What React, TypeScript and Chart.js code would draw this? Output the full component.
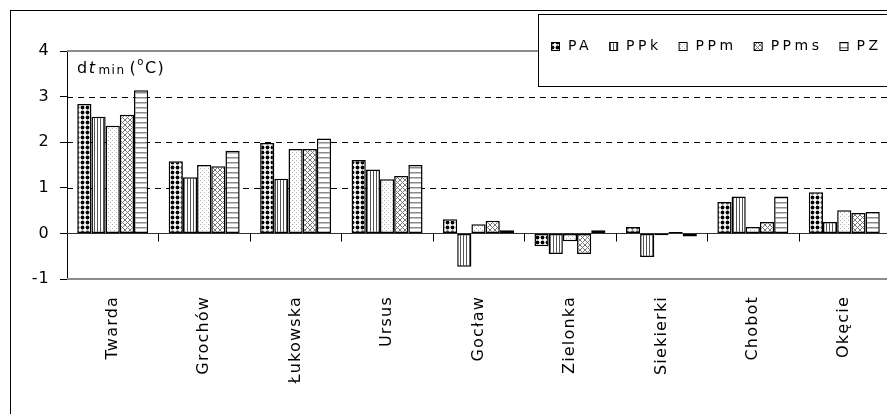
import React, { useEffect, useRef } from 'react';
import { Chart, registerables } from 'chart.js';
Chart.register(...registerables);

const categories = ['Twarda', 'Grochów', 'Łukowska', 'Ursus', 'Gocław', 'Zielonka', 'Siekierki', 'Chobot', 'Okęcie'];
const seriesNames = ['PA', 'PPk', 'PPm', 'PPms', 'PZ'];
const PA = [2.84, 1.58, 1.98, 1.61, 0.31, -0.28, 0.14, 0.69, 0.9];
const PPk = [2.56, 1.23, 1.2, 1.4, -0.73, -0.45, -0.52, 0.81, 0.25];
const PPm = [2.36, 1.5, 1.85, 1.19, 0.2, -0.17, -0.04, 0.14, 0.51];
const PPms = [2.6, 1.47, 1.85, 1.26, 0.28, -0.45, 0.03, 0.25, 0.45];
const PZ = [3.14, 1.81, 2.08, 1.5, 0.07, 0.07, -0.07, 0.81, 0.47];
const yMin = -1;
const yMax = 4;
const dashedTicks = [1, 2, 3];

const FONT = "'DejaVu Sans', 'Liberation Sans', Arial, sans-serif";

function makePattern(kind: string): CanvasPattern | string {
  const c = document.createElement('canvas');
  let w = 4, h = 4;
  if (kind === 'PA') { w = 5; h = 5; }
  if (kind === 'PPk') { w = 3; h = 3; }
  if (kind === 'PPm') { w = 4; h = 4; }
  if (kind === 'PPms') { w = 5; h = 5; }
  if (kind === 'PZ') { w = 4; h = 5; }
  c.width = w; c.height = h;
  const g = c.getContext('2d')!;
  g.fillStyle = '#fff';
  g.fillRect(0, 0, w, h);
  if (kind === 'PA') {
    g.fillStyle = '#000';
    g.beginPath();
    g.arc(2.5, 2.5, 1.9, 0, Math.PI * 2);
    g.fill();
  } else if (kind === 'PPk') {
    g.fillStyle = '#555';
    g.fillRect(1, 0, 1, h);
  } else if (kind === 'PPm') {
    g.fillStyle = '#b0b0b0';
    g.fillRect(0, 0, 1, 1);
    g.fillRect(2, 2, 1, 1);
  } else if (kind === 'PPms') {
    g.strokeStyle = '#777';
    g.lineWidth = 1;
    g.beginPath();
    g.moveTo(0, 0); g.lineTo(w, h);
    g.moveTo(w, 0); g.lineTo(0, h);
    g.stroke();
  } else if (kind === 'PZ') {
    g.fillStyle = '#8a8a8a';
    g.fillRect(0, 2, w, 1.5);
  }
  const p = g.createPattern(c, 'repeat');
  return p || '#fff';
}

const setSpacing = (chart: any) => {
  (chart.ctx as any).letterSpacing = '1.2px';
};

const framePlugin = {
  id: 'frame',
  beforeUpdate: setSpacing,
  beforeLayout: setSpacing,
  beforeDraw(chart: any) {
    setSpacing(chart);
    const ctx = chart.ctx;
    ctx.save();
    ctx.fillStyle = '#fff';
    ctx.fillRect(0, 0, chart.width, chart.height);
    ctx.strokeStyle = '#000';
    ctx.lineWidth = 1;
    ctx.strokeRect(10.5, 10.5, 2000, 2000);
    ctx.restore();
  },
  beforeDatasetsDraw(chart: any) {
    const ctx = chart.ctx;
    const y = chart.scales.y;
    const { left, right } = chart.chartArea;
    ctx.save();
    [yMin, yMax].forEach((v) => {
      const py = Math.round(y.getPixelForValue(v));
      ctx.strokeStyle = '#8c8c8c';
      ctx.lineWidth = 2;
      ctx.beginPath();
      ctx.moveTo(left, py);
      ctx.lineTo(right, py);
      ctx.stroke();
    });
    dashedTicks.forEach((v) => {
      const py = Math.round(y.getPixelForValue(v)) + 0.5;
      ctx.strokeStyle = '#000';
      ctx.lineWidth = 1;
      ctx.setLineDash([6, 5]);
      ctx.beginPath();
      ctx.moveTo(left, py);
      ctx.lineTo(right, py);
      ctx.stroke();
    });
    ctx.restore();
  },
  afterDatasetsDraw(chart: any) {
    const ctx = chart.ctx;
    const y = chart.scales.y;
    const x = chart.scales.x;
    const { left, right } = chart.chartArea;
    const zy = Math.round(y.getPixelForValue(0)) + 0.5;
    ctx.save();
    ctx.strokeStyle = '#333';
    ctx.lineWidth = 1.2;
    ctx.beginPath();
    ctx.moveTo(left, zy);
    ctx.lineTo(right, zy);
    ctx.stroke();
    ctx.strokeStyle = '#000';
    ctx.lineWidth = 1;
    const n = categories.length;
    for (let i = 1; i <= n; i++) {
      let bx;
      if (i < n) bx = (x.getPixelForValue(i - 1) + x.getPixelForValue(i)) / 2;
      else bx = x.getPixelForValue(n - 1) + (x.getPixelForValue(n - 1) - x.getPixelForValue(n - 2)) / 2;
      bx = Math.round(bx) + 0.5;
      ctx.beginPath();
      ctx.moveTo(bx, zy);
      ctx.lineTo(bx, zy + 8);
      ctx.stroke();
    }
    ctx.restore();
  },
  afterDraw(chart: any) {
    const ctx = chart.ctx;
    const { left, top } = chart.chartArea;
    ctx.save();
    (ctx as any).letterSpacing = '1.5px';
    ctx.fillStyle = '#000';
    ctx.textBaseline = 'alphabetic';
    ctx.textAlign = 'left';
    let tx = left + 10;
    const by = top + 22;
    ctx.font = `16px ${FONT}`;
    ctx.fillText('d', tx, by); tx += ctx.measureText('d').width;
    ctx.font = `italic 16px ${FONT}`;
    ctx.fillText('t', tx, by); tx += ctx.measureText('t').width + 2;
    ctx.font = `12px ${FONT}`;
    ctx.fillText('min', tx, by + 1); tx += ctx.measureText('min').width + 4;
    ctx.font = `16px ${FONT}`;
    ctx.fillText('(', tx, by); tx += ctx.measureText('(').width;
    ctx.font = `10px ${FONT}`;
    ctx.fillText('o', tx, by - 8); tx += ctx.measureText('o').width;
    ctx.font = `16px ${FONT}`;
    ctx.fillText('C)', tx, by);

    const lx = 538.5, ly = 14.5;
    ctx.fillStyle = '#fff';
    ctx.fillRect(lx, ly, 600, 72);
    ctx.strokeStyle = '#000';
    ctx.lineWidth = 1;
    ctx.strokeRect(lx, ly, 600, 72);
    (ctx as any).letterSpacing = '3.5px';
    ctx.font = `14px ${FONT}`;
    ctx.textBaseline = 'middle';
    let ix = 551;
    const iy = 46;
    chart.data.datasets.forEach((ds: any) => {
      ctx.fillStyle = ds.backgroundColor;
      ctx.fillRect(ix, iy - 4, 9, 9);
      ctx.strokeStyle = '#000';
      ctx.strokeRect(ix + 0.5, iy - 3.5, 8, 8);
      ctx.fillStyle = '#000';
      ctx.fillText(ds.label, ix + 17, iy);
      ix += 17 + ctx.measureText(ds.label).width + 17;
    });
    ctx.restore();
  },
};

export default function App() {
  const ref = useRef<HTMLCanvasElement | null>(null);
  useEffect(() => {
    if (!ref.current) return;
    const values = [PA, PPk, PPm, PPms, PZ];
    const chart = new Chart(ref.current, {
      type: 'bar',
      data: {
        labels: categories,
        datasets: seriesNames.map((name, i) => ({
          label: name,
          data: values[i],
          backgroundColor: makePattern(name) as any,
          borderColor: '#000',
          borderWidth: 1.5,
          borderSkipped: false,
          categoryPercentage: 0.776,
          barPercentage: 1,
        })),
      },
      options: {
        animation: false,
        responsive: false,
        maintainAspectRatio: false,
        devicePixelRatio: 1,
        layout: { padding: { top: 51, right: 10, left: 0, bottom: 0 } },
        plugins: { legend: { display: false }, tooltip: { enabled: false } },
        scales: {
          x: {
            grid: { display: false, drawTicks: false },
            border: { display: false },
            ticks: {
              autoSkip: false,
              minRotation: 90,
              maxRotation: 90,
              padding: 17,
              color: '#000',
              font: { family: FONT, size: 16 },
            },
            afterFit: (s: any) => { s.height = 135; },
          },
          y: {
            min: yMin,
            max: yMax,
            ticks: {
              stepSize: 1,
              color: '#000',
              padding: 10,
              font: { family: FONT, size: 16 },
            },
            grid: { display: true, drawOnChartArea: false, drawTicks: true, tickLength: 7, color: '#000' },
            border: { display: true, color: '#000', width: 1 },
            afterFit: (s: any) => { s.width = 67; },
          },
        },
      },
      plugins: [framePlugin],
    });
    return () => chart.destroy();
  }, []);
  return (
    <div style={{ position: 'fixed', left: 0, top: 0, width: 887, height: 414, overflow: 'hidden', background: '#fff' }}>
      <canvas ref={ref} width={900} height={414} style={{ display: 'block', width: 900, height: 414 }} />
    </div>
  );
}
